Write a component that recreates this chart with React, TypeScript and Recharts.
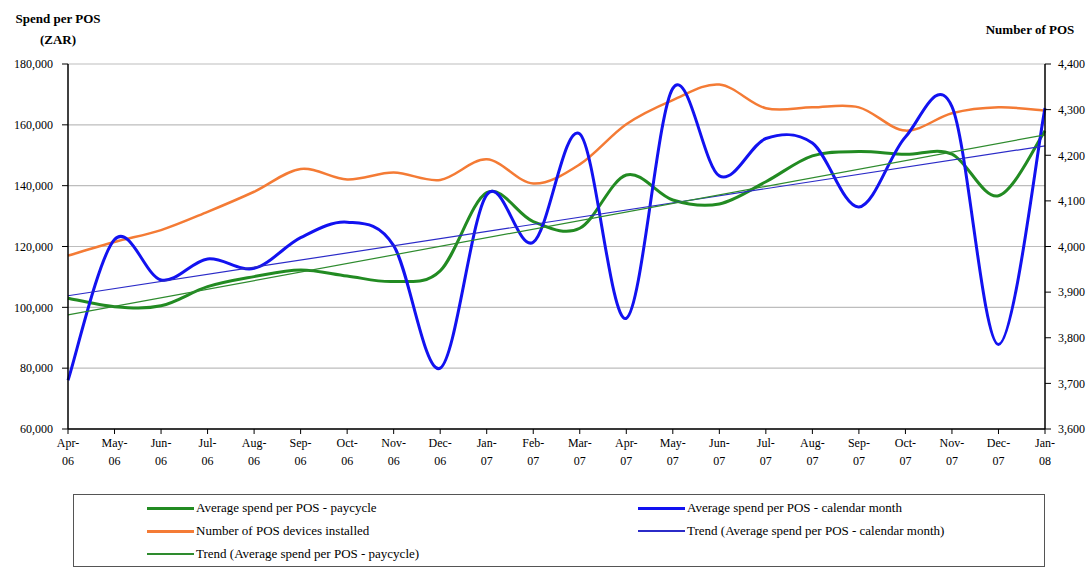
import React from "react"
import {
  LineChart, Line, XAxis, YAxis, CartesianGrid, Legend,
} from "recharts"

const months = [
  "Apr-06", "May-06", "Jun-06", "Jul-06", "Aug-06", "Sep-06", "Oct-06", "Nov-06",
  "Dec-06", "Jan-07", "Feb-07", "Mar-07", "Apr-07", "May-07", "Jun-07", "Jul-07",
  "Aug-07", "Sep-07", "Oct-07", "Nov-07", "Dec-07", "Jan-08",
]

const paycycle = [
  103000, 100200, 100500, 106800, 110100, 112300, 110300, 108500, 112000, 137700, 128200,
  126000, 143500, 135300, 134000, 141300, 149800, 151200, 150300, 150400, 136700, 158000,
]

const calendarMonth = [
  76000, 122300, 109000, 115900, 112800, 122900, 128000, 120300, 80000, 137000, 121400,
  157000, 96400, 172000, 143200, 155500, 154000, 133000, 156000, 166000, 87800, 165500,
]

const posDevices = [
  3980, 4010, 4036, 4076, 4120, 4170, 4147, 4162, 4146, 4191, 4138,
  4180, 4268, 4321, 4355, 4303, 4305, 4305, 4254, 4292, 4305, 4298,
]

// trend lines: only the two ends, joined straight
const trendCalendarEnds = [103800, 153100]
const trendPaycycleEnds = [97500, 156700]

const leftTicks = [60000, 80000, 100000, 120000, 140000, 160000, 180000]
const rightTicks = [3600, 3700, 3800, 3900, 4000, 4100, 4200, 4300, 4400]

const legendItems = [
  { name: "Average spend per POS - paycycle", color: "#228B22", thick: true },
  { name: "Average spend per POS - calendar month", color: "#1212F0", thick: true },
  { name: "Number of POS devices installed", color: "#F47B35", thick: true },
  { name: "Trend (Average spend per POS - calendar month)", color: "#2B2BC8", thick: false },
  { name: "Trend (Average spend per POS - paycycle)", color: "#2E8B2E", thick: false },
]

const last = months.length - 1
const data = months.map((m, i) => ({
  month: m,
  paycycle: paycycle[i],
  calendar: calendarMonth[i],
  pos: posDevices[i],
  trendCal: i === 0 ? trendCalendarEnds[0] : i === last ? trendCalendarEnds[1] : null,
  trendPay: i === 0 ? trendPaycycleEnds[0] : i === last ? trendPaycycleEnds[1] : null,
}))

const FONT = "'Liberation Serif', 'Times New Roman', serif"

// excel-like smoothed line (catmull-rom through every point)
const smooth = (context: any) => {
  let px: number[] = []
  let py: number[] = []
  return {
    areaStart() {},
    areaEnd() {},
    lineStart() { px = []; py = [] },
    lineEnd() {
      const n = px.length
      if (!n) return
      context.moveTo(px[0], py[0])
      for (let i = 0; i < n - 1; i++) {
        const a = Math.max(i - 1, 0)
        const d = Math.min(i + 2, n - 1)
        context.bezierCurveTo(
          px[i] + (px[i + 1] - px[a]) / 6, py[i] + (py[i + 1] - py[a]) / 6,
          px[i + 1] - (px[d] - px[i]) / 6, py[i + 1] - (py[d] - py[i]) / 6,
          px[i + 1], py[i + 1],
        )
      }
    },
    point(x: number, y: number) { px.push(+x); py.push(+y) },
  }
}

const MonthTick = ({ x, y, payload }: any) => {
  const [mon, yr] = String(payload.value).split("-")
  return (
    <g>
      <text x={x} y={y} dy={10} textAnchor="middle" fontSize={12} fontFamily={FONT} fill="#000">{mon}-</text>
      <text x={x} y={y} dy={28} textAnchor="middle" fontSize={12} fontFamily={FONT} fill="#000">{yr}</text>
    </g>
  )
}

const fmt = (v: number) => v.toLocaleString("en-US")

const LegendBox = () => (
  <div style={{
    width: 970, height: 71, border: "1px solid #555", boxSizing: "content-box",
    position: "relative", fontFamily: FONT, fontSize: 13, color: "#000", background: "#fff",
  }}>
    {legendItems.map((it, i) => {
      const col = i % 2
      const row = Math.floor(i / 2)
      return (
        <div key={it.name} style={{
          position: "absolute", left: col === 0 ? 73 : 564, top: 13 + row * 23 - 8,
          height: 16, display: "flex", alignItems: "center", whiteSpace: "nowrap",
        }}>
          <span style={{
            display: "inline-block", width: 47, height: it.thick ? 3 : 1.5,
            background: it.color, marginRight: 2,
          }} />
          <span>{it.name}</span>
        </div>
      )
    })}
  </div>
)

export default function App() {
  return (
    <div style={{ position: "absolute", left: 0, top: 0, width: 1092, height: 569, background: "#fff", fontFamily: FONT }}>
      <div style={{ position: "absolute", left: 0, width: 116, top: 8, textAlign: "center", fontWeight: "bold", fontSize: 13, lineHeight: "21px" }}>
        Spend per POS<br />(ZAR)
      </div>
      <div style={{ position: "absolute", left: 975, width: 110, top: 22, textAlign: "center", fontWeight: "bold", fontSize: 13 }}>
        Number of POS
      </div>
      <LineChart
        width={1092}
        height={569}
        data={data}
        margin={{ top: 64, right: 0, bottom: 0, left: 0 }}
        style={{ position: "absolute", left: 0, top: 0 }}
      >
        <CartesianGrid horizontal vertical={false} yAxisId="left" stroke="#bdbdbd" strokeWidth={1.2} />
        <XAxis
          dataKey="month"
          scale="point"
          padding={{ left: 0, right: 0 }}
          interval={0}
          height={140}
          tick={<MonthTick />}
          tickSize={5}
          tickMargin={3}
          axisLine={{ stroke: "#000", strokeWidth: 1.5 }}
          tickLine={{ stroke: "#000" }}
        />
        <YAxis
          yAxisId="left"
          width={68}
          domain={[60000, 180000]}
          ticks={leftTicks}
          allowDataOverflow
          tickFormatter={fmt}
          tickSize={6}
          tickMargin={9}
          tick={{ fontSize: 12, fontFamily: FONT, fill: "#000" }}
          axisLine={{ stroke: "#000", strokeWidth: 1.5 }}
          tickLine={{ stroke: "#000" }}
        />
        <YAxis
          yAxisId="right"
          orientation="right"
          width={47}
          domain={[3600, 4400]}
          ticks={rightTicks}
          allowDataOverflow
          tickFormatter={fmt}
          tickSize={6}
          tickMargin={7}
          tick={{ fontSize: 12, fontFamily: FONT, fill: "#000", textAnchor: "start" }}
          axisLine={{ stroke: "#000", strokeWidth: 1.5 }}
          tickLine={{ stroke: "#000" }}
        />
        <Legend
          layout="horizontal"
          verticalAlign="middle"
          align="center"
          content={<LegendBox />}
          wrapperStyle={{ left: 73, top: 494, width: 972, height: 73 }}
        />
        <Line yAxisId="right" dataKey="pos" name="Number of POS devices installed" type={smooth as any}
          stroke="#F47B35" strokeWidth={2.5} dot={false} activeDot={false} isAnimationActive={false} />
        <Line yAxisId="left" dataKey="paycycle" name="Average spend per POS - paycycle" type={smooth as any}
          stroke="#228B22" strokeWidth={3} dot={false} activeDot={false} isAnimationActive={false} />
        <Line yAxisId="left" dataKey="calendar" name="Average spend per POS - calendar month" type={smooth as any}
          stroke="#1212F0" strokeWidth={3} dot={false} activeDot={false} isAnimationActive={false} />
        <Line yAxisId="left" dataKey="trendCal" name="Trend (Average spend per POS - calendar month)" type="linear"
          connectNulls stroke="#2B2BC8" strokeWidth={1.2} dot={false} activeDot={false} isAnimationActive={false} />
        <Line yAxisId="left" dataKey="trendPay" name="Trend (Average spend per POS - paycycle)" type="linear"
          connectNulls stroke="#2E8B2E" strokeWidth={1.2} dot={false} activeDot={false} isAnimationActive={false} />
      </LineChart>
    </div>
  )
}
